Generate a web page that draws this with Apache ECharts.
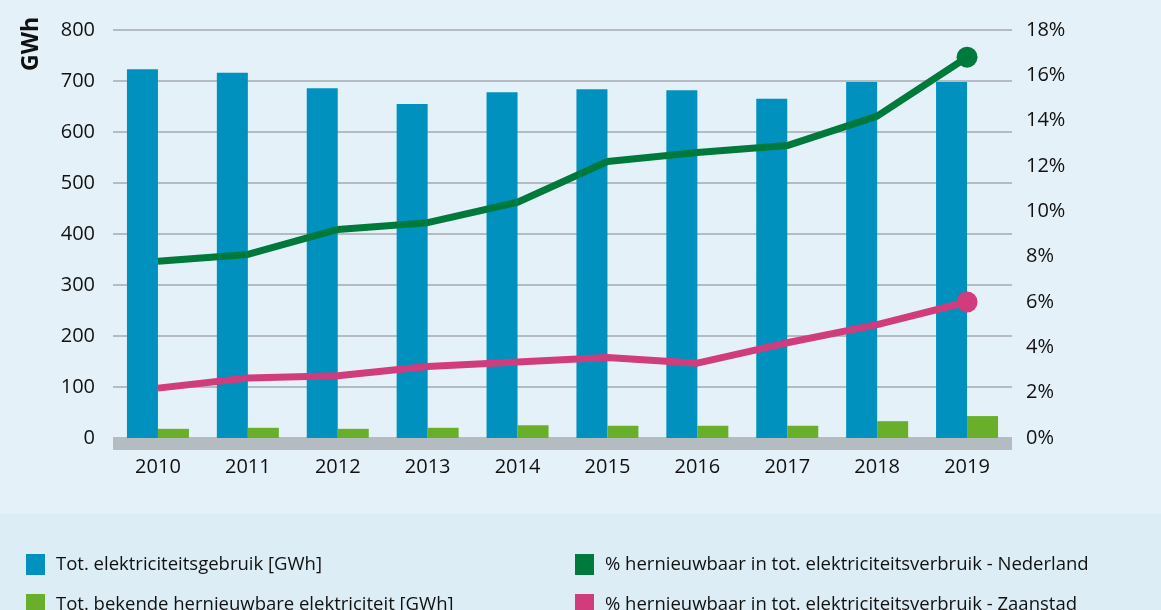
<!DOCTYPE html>
<html>
<head>
<meta charset="utf-8">
<script src="https://cdn.jsdelivr.net/npm/echarts@6/dist/echarts.min.js"></script>
<style>
html,body{margin:0;padding:0;background:#e5f1f8;}
#chart{width:1161px;height:610px;}
</style>
</head>
<body>
<div id="chart"></div>
<script>
const years = ['2010','2011','2012','2013','2014','2015','2016','2017','2018','2019'];
const totalUse = [723, 716, 686, 655, 678, 684, 682, 665, 698, 698];
const renewable = [18, 20, 18, 20, 25, 24, 24, 24, 33, 43];
const pctNL = [7.8, 8.1, 9.2, 9.5, 10.4, 12.2, 12.6, 12.9, 14.2, 16.8];
const pctZaanstad = [2.2, 2.65, 2.75, 3.15, 3.35, 3.55, 3.3, 4.2, 5.0, 6.0];
const leftTicks = {min: 0, max: 800, interval: 100};
const rightTicks = {min: 0, max: 18, interval: 2};

const names = [
  'Tot. elektriciteitsgebruik [GWh]',
  'Tot. bekende hernieuwbare elektriciteit [GWh]',
  '% hernieuwbaar in tot. elektriciteitsverbruik - Nederland',
  '% hernieuwbaar in tot. elektriciteitsverbruik - Zaanstad'
];
const colors = ['#0091be', '#6aaf2a', '#007a3c', '#d13c7c'];
const FONT = '"Open Sans", "Noto Sans", sans-serif';

function lastMarker(arr) {
  return arr.map((v, i) => i === arr.length - 1 ? {value: v, symbol: 'circle', symbolSize: 21} : {value: v, symbol: 'none'});
}
function legendItem(name, left, top) {
  return {left: left, top: top, orient: 'horizontal', itemWidth: 19, itemHeight: 21, icon: 'rect',
    data: [name], selectedMode: false,
    textStyle: {fontSize: 18.5, color: '#111', fontFamily: FONT, padding: [0, 0, 0, 6]}};
}

const chart = echarts.init(document.getElementById('chart'));
chart.setOption({
  animation: false,
  backgroundColor: '#e5f1f8',
  textStyle: {fontFamily: FONT},
  graphic: [
    {type: 'rect', left: 0, top: 514, shape: {width: 1161, height: 96}, style: {fill: '#dcedf5'}, z: -10, silent: true},
    {type: 'text', x: 31, y: 44, rotation: Math.PI / 2,
     style: {text: 'GWh', font: 'bold 23px ' + FONT, fill: '#111', align: 'center', verticalAlign: 'middle'}}
  ],
  grid: {left: 113, right: 149, top: 30, bottom: 172},
  legend: [
    legendItem(names[0], 21, 549),
    legendItem(names[1], 21, 589),
    legendItem(names[2], 570, 549),
    legendItem(names[3], 570, 589)
  ],
  xAxis: {
    type: 'category', data: years, offset: 6,
    axisLine: {show: true, onZero: false, lineStyle: {color: '#b4bbc1', width: 12, cap: 'butt'}},
    axisTick: {show: false},
    axisLabel: {color: '#111', fontSize: 20, margin: 13, fontFamily: FONT}
  },
  yAxis: [
    {type: 'value', min: leftTicks.min, max: leftTicks.max, interval: leftTicks.interval,
     axisLine: {show: false}, axisTick: {show: false},
     axisLabel: {color: '#111', fontSize: 20, margin: 18, fontFamily: FONT},
     splitLine: {lineStyle: {color: '#b4bbc1', width: 2}}},
    {type: 'value', min: rightTicks.min, max: rightTicks.max, interval: rightTicks.interval, position: 'right',
     axisLine: {show: false}, axisTick: {show: false},
     axisLabel: {color: '#111', fontSize: 20, margin: 14, formatter: '{value}%', fontFamily: FONT},
     splitLine: {show: false}}
  ],
  series: [
    {name: names[0], type: 'bar', data: totalUse, barWidth: 31, barGap: '0%', itemStyle: {color: colors[0]}},
    {name: names[1], type: 'bar', data: renewable, barWidth: 31, barGap: '0%', itemStyle: {color: colors[1]}},
    {name: names[2], type: 'line', yAxisIndex: 1, data: lastMarker(pctNL), symbol: 'none',
     lineStyle: {color: colors[2], width: 7}, itemStyle: {color: colors[2]}, z: 5},
    {name: names[3], type: 'line', yAxisIndex: 1, data: lastMarker(pctZaanstad), symbol: 'none',
     lineStyle: {color: colors[3], width: 7}, itemStyle: {color: colors[3]}, z: 5}
  ]
});
</script>
</body>
</html>
